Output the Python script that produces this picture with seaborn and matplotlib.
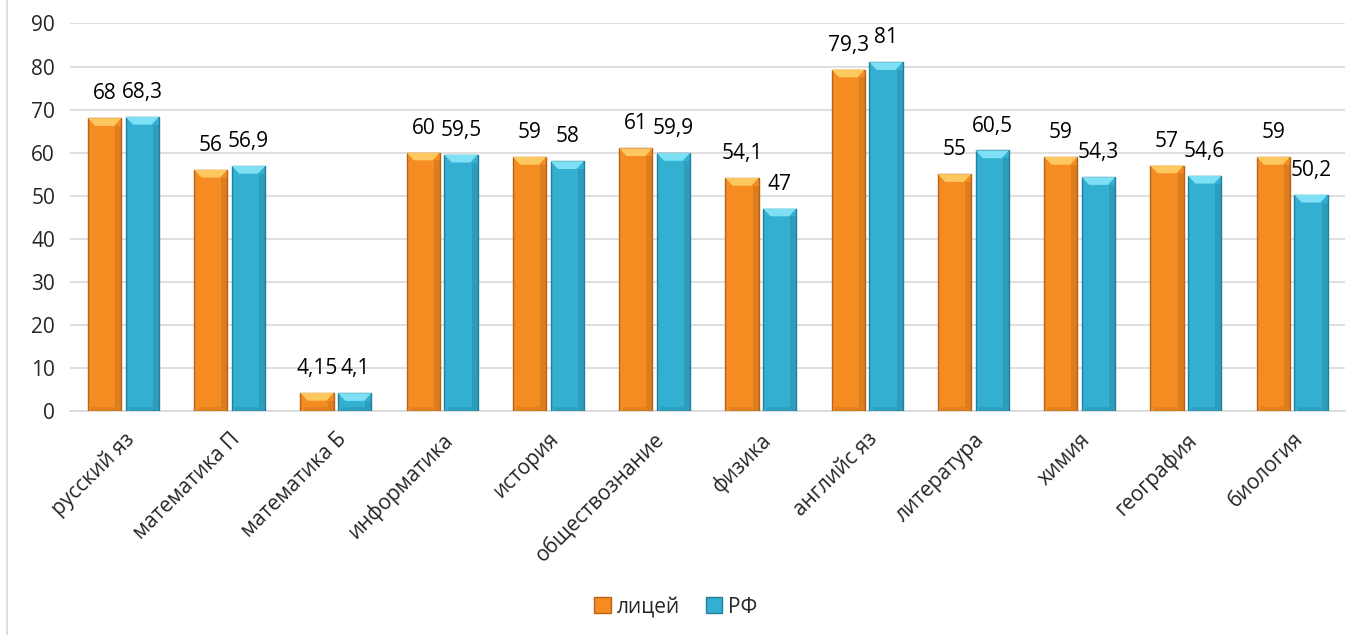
import matplotlib
matplotlib.use('Agg')
import matplotlib.pyplot as plt
from matplotlib.patches import Polygon, Rectangle
import pandas as pd
import seaborn as sns

subjects = ['русский яз', 'математика П', 'математика Б', 'информатика', 'история',
            'обществознание', 'физика', 'английс яз', 'литература', 'химия',
            'география', 'биология']
liceum = [68, 56, 4.15, 60, 59, 61, 54.1, 79.3, 55, 59, 57, 59]
rf = [68.3, 56.9, 4.1, 59.5, 58, 59.9, 47, 81, 60.5, 54.3, 54.6, 50.2]
series_names = ['лицей', 'РФ']

colors = {'лицей': '#F58C22', 'РФ': '#33AFD1'}
edge_colors = {'лицей': '#B8621A', 'РФ': '#23809A'}
top_colors = {'лицей': '#FDC860', 'РФ': '#7FE0F5'}

df = pd.DataFrame({
    'subject': subjects * 2,
    'value': liceum + rf,
    'series': [series_names[0]] * len(subjects) + [series_names[1]] * len(subjects),
})

sns.set_style('white')
plt.rcParams['font.family'] = ['Open Sans', 'DejaVu Sans']

fig = plt.figure(figsize=(13.52, 6.35), dpi=100)
ax = fig.add_axes([0.052, 0.353, 0.943, 0.61])

sns.barplot(data=df, x='subject', y='value', hue='series', palette=colors, saturation=1,
            width=0.71, gap=0.12, ax=ax, legend=False, zorder=3)

# bevel look: darker edge, lighter cap at top of each bar
for container, name in zip(ax.containers, series_names):
    for bar, val in zip(container, container.datavalues):
        bar.set_edgecolor(edge_colors[name])
        bar.set_linewidth(1.0)
        x0, w, h = bar.get_x(), bar.get_width(), bar.get_height()
        cap = min(1.8, h * 0.45)
        inset = w * 0.22
        ax.add_patch(Polygon([(x0, h), (x0 + w, h), (x0 + w - inset, h - cap), (x0 + inset, h - cap)],
                             closed=True, facecolor=top_colors[name], edgecolor='none', zorder=4))
        ax.add_patch(Rectangle((x0 + w * 0.82, 0), w * 0.18, h - cap, facecolor='black',
                               alpha=0.10, edgecolor='none', zorder=4))
        ax.add_patch(Rectangle((x0 + w * 0.1, 0), w * 0.72, min(1.0, h * 0.2), facecolor='black',
                               alpha=0.08, edgecolor='none', zorder=4))
    ax.bar_label(container, labels=[f'{v:g}'.replace('.', ',') for v in container.datavalues],
                 padding=10, fontsize=15, color='#000000')

ax.set_ylim(0, 90)
ax.set_yticks(range(0, 91, 10))
ax.set_xlim(-0.5, len(subjects) - 0.5)
ax.yaxis.grid(True, color='#D9D9D9', linewidth=1.2, zorder=0)
ax.set_axisbelow(True)
for side in ['top', 'right', 'left']:
    ax.spines[side].set_visible(False)
ax.spines['bottom'].set_color('#D9D9D9')
ax.spines['bottom'].set_linewidth(1.2)
ax.set_xlabel('')
ax.set_ylabel('')
ax.tick_params(axis='y', labelsize=15, length=0, pad=11)
ax.tick_params(axis='x', labelsize=15, length=0, pad=13)
plt.setp(ax.get_xticklabels(), rotation=45, ha='right', rotation_mode='anchor')

handles = [Rectangle((0, 0), 1, 1, facecolor=colors[n], edgecolor=edge_colors[n]) for n in series_names]
fig.legend(handles, series_names, loc='center', bbox_to_anchor=(0.5, 0.044), ncol=2,
           frameon=False, fontsize=15, handlelength=0.8, handleheight=0.8,
           handletextpad=0.3, columnspacing=1.2)

fig.patches.append(Rectangle((0.005, -0.01), 1.2, 1.2, transform=fig.transFigure,
                             fill=False, edgecolor='#D9D9D9', linewidth=1.2))

fig.savefig('out.png', dpi=100)
